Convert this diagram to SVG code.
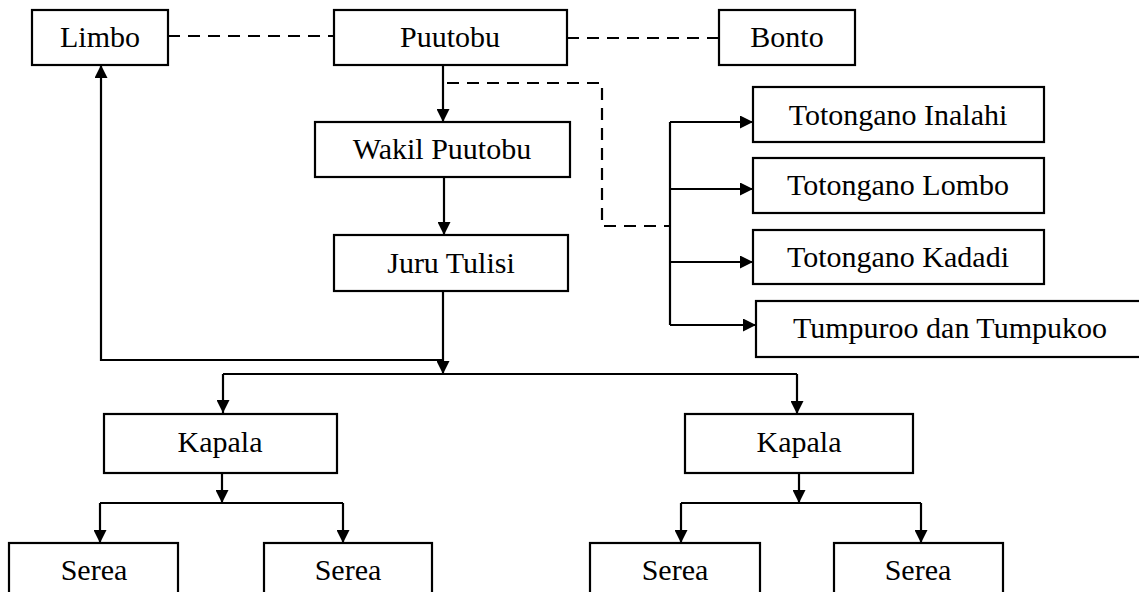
<svg xmlns="http://www.w3.org/2000/svg" width="1139" height="592" viewBox="0 0 1139 592">
<style>
.box{fill:#fff;stroke:#000;stroke-width:2.2}
.lbl{font-family:"Liberation Serif","Times New Roman",serif;font-size:30px;fill:#000;text-anchor:middle}
.ln{fill:none;stroke:#000;stroke-width:2.2}
.arr{marker-end:url(#ah)}
.dash{fill:none;stroke:#000;stroke-width:2.2;stroke-dasharray:12 8}
</style>
<defs>
<marker id="ah" markerUnits="userSpaceOnUse" markerWidth="13" markerHeight="13" refX="13" refY="6.5" orient="auto">
<path d="M0,0 L13,6.5 L0,13 z" fill="#000"/>
</marker>
</defs>
<rect width="1139" height="592" fill="#fff"/>
<g id="connectors">
<path class="dash" d="M168,36 H334"/>
<path class="dash" d="M567,38 H719"/>
<path class="dash" d="M447,83 H602 V226 H670"/>
<path class="ln arr" d="M443,65 V122"/>
<path class="ln arr" d="M444,177 V235"/>
<path class="ln arr" d="M443,291 V374"/>
<path class="ln arr" d="M443,360 H101 V65"/>
<path class="ln" d="M223,374 H797"/>
<path class="ln arr" d="M223,374 V413"/>
<path class="ln arr" d="M797,374 V414"/>
<path class="ln" d="M670,122 V325"/>
<path class="ln arr" d="M670,122 H753"/>
<path class="ln arr" d="M670,189 H753"/>
<path class="ln arr" d="M670,262 H753"/>
<path class="ln arr" d="M670,325 H756"/>
<path class="ln arr" d="M222,473 V503"/>
<path class="ln" d="M100,503 H343"/>
<path class="ln arr" d="M100,503 V543"/>
<path class="ln arr" d="M343,503 V543"/>
<path class="ln arr" d="M799,473 V503"/>
<path class="ln" d="M681,503 H921"/>
<path class="ln arr" d="M681,503 V543"/>
<path class="ln arr" d="M921,503 V543"/>
</g>
<g id="limbo"><rect class="box" x="32" y="10" width="136" height="55"/><text class="lbl" x="100" y="47">Limbo</text></g>
<g id="puutobu"><rect class="box" x="334" y="10" width="233" height="55"/><text class="lbl" x="450" y="47">Puutobu</text></g>
<g id="bonto"><rect class="box" x="719" y="10" width="136" height="55"/><text class="lbl" x="787" y="47">Bonto</text></g>
<g id="wakil"><rect class="box" x="315" y="122" width="255" height="55"/><text class="lbl" x="442" y="159">Wakil Puutobu</text></g>
<g id="juru"><rect class="box" x="334" y="235" width="234" height="56"/><text class="lbl" x="451" y="273">Juru Tulisi</text></g>
<g id="inalahi"><rect class="box" x="753" y="87" width="291" height="55"/><text class="lbl" x="898" y="125">Totongano Inalahi</text></g>
<g id="lombo"><rect class="box" x="753" y="158" width="291" height="55"/><text class="lbl" x="898" y="195">Totongano Lombo</text></g>
<g id="kadadi"><rect class="box" x="753" y="230" width="291" height="54"/><text class="lbl" x="898" y="267">Totongano Kadadi</text></g>
<g id="tumpuroo"><rect class="box" x="756" y="301" width="400" height="56"/><text class="lbl" x="950" y="338">Tumpuroo dan Tumpukoo</text></g>
<g id="kapala1"><rect class="box" x="104" y="414" width="233" height="59"/><text class="lbl" x="220" y="452">Kapala</text></g>
<g id="kapala2"><rect class="box" x="685" y="414" width="228" height="59"/><text class="lbl" x="799" y="452">Kapala</text></g>
<g id="serea1"><rect class="box" x="9" y="543" width="169" height="56"/><text class="lbl" x="94" y="580">Serea</text></g>
<g id="serea2"><rect class="box" x="264" y="543" width="168" height="56"/><text class="lbl" x="348" y="580">Serea</text></g>
<g id="serea3"><rect class="box" x="590" y="543" width="170" height="56"/><text class="lbl" x="675" y="580">Serea</text></g>
<g id="serea4"><rect class="box" x="834" y="543" width="169" height="56"/><text class="lbl" x="918" y="580">Serea</text></g>
</svg>
